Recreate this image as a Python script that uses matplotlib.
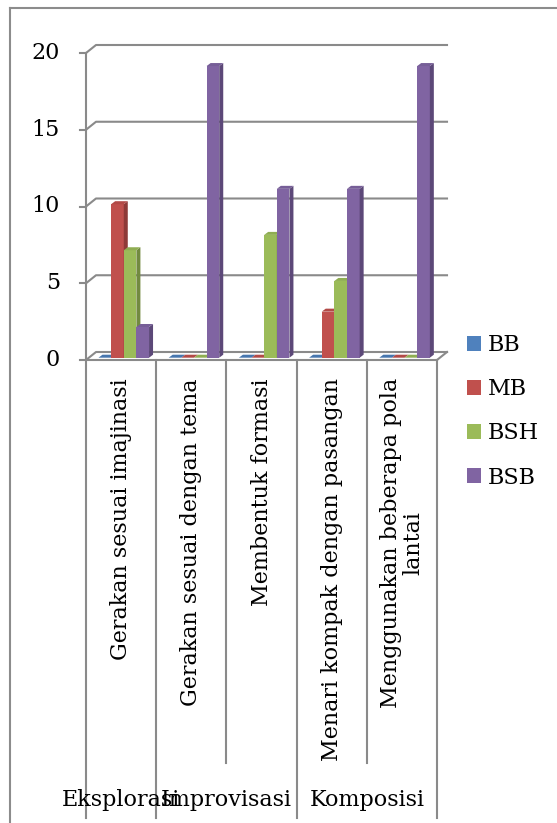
import numpy as np
import matplotlib
matplotlib.use('Agg')
import matplotlib.pyplot as plt
from matplotlib.patches import Polygon, Patch
from matplotlib.lines import Line2D

plt.rcParams['font.family'] = ['DejaVu Serif']

# data
aspek = ['Eksplorasi', 'Improvisasi', 'Komposisi']
aspek_span = [1, 2, 2]
indikator = ['Gerakan sesuai imajinasi', 'Gerakan sesuai dengan tema',
             'Membentuk formasi', 'Menari kompak dengan pasangan',
             'Menggunakan beberapa pola\nlantai']
series = ['BB', 'MB', 'BSH', 'BSB']
bb = [0, 0, 0, 0, 0]
mb = [10, 0, 0, 3, 0]
bsh = [7, 0, 8, 5, 0]
bsb = [2, 19, 11, 11, 19]
yticks = [0, 5, 10, 15, 20]

face = ['#4F81BD', '#C0504D', '#9BBB59', '#8064A2']
side = ['#3A6190', '#8E3A38', '#728A40', '#5C4878']
top = ['#4776AE', '#B24A47', '#8FAD52', '#765E97']

W, H = 557, 823
PXX, PXY = 70.2, 15.35      # pixels per category / per value unit
X0, Y0 = 86, 360             # front origin in pixels
FS = 16

fig = plt.figure(figsize=(W / 100, H / 100), dpi=100)
ax = fig.add_axes([0, 0, 1, 1])
ax.set_xlim(-X0 / PXX, (W - X0) / PXX)
ax.set_ylim(-(H - Y0) / PXY, Y0 / PXY)
ax.axis('off')

gc = '#8a8a8a'
lw = 1.5
n = len(indikator)
wdx, wdy = 10 / PXX, 8 / PXY

# walls / gridlines
for v in yticks:
    ax.plot([0, wdx, n + wdx], [v, v + wdy, v + wdy], color=gc, lw=lw, zorder=1)
    ax.plot([-6 / PXX, 0], [v, v], color=gc, lw=lw, zorder=1)
    ax.text(-26 / PXX, v, str(v), ha='right', va='center', fontsize=FS)
ax.plot([0, n], [0, 0], color=gc, lw=lw, zorder=1)
ax.plot([n, n + wdx], [0, wdy], color=gc, lw=lw, zorder=1)

# dividers below the axis
bottom_full = -(818 - Y0) / PXY
bottom_short = -(763 - Y0) / PXY
ax.plot([0, 0], [yticks[-1], bottom_full], color=gc, lw=lw, zorder=1)
edges = np.cumsum([0] + aspek_span)
for i in range(1, n + 1):
    yb = bottom_full if i in edges else bottom_short
    ax.plot([i, i], [0, yb], color=gc, lw=lw, zorder=1)

# 3d columns
bw = 0.18
off0 = 0.178
b0 = 0.15
sx, sy = 4 / PXX, 3 / PXY
data = [bb, mb, bsh, bsb]
for i in range(n):
    for j, vals in enumerate(data):
        v = vals[i]
        x = i + off0 + j * bw
        z = 3 + i * 0.1 + j * 0.01
        if v > 0:
            ax.bar(x, v, width=bw, bottom=b0, align='edge', color=face[j],
                   linewidth=0, zorder=z)
            ax.add_patch(Polygon([(x + bw, b0), (x + bw + sx, b0 + sy),
                                  (x + bw + sx, b0 + v + sy), (x + bw, b0 + v)],
                                 closed=True, color=side[j], lw=0, zorder=z))
        ax.add_patch(Polygon([(x, b0 + v), (x + bw, b0 + v),
                              (x + bw + sx, b0 + v + sy), (x + sx, b0 + v + sy)],
                             closed=True, color=top[j], lw=0, zorder=z))

# category labels
for i, lab in enumerate(indikator):
    ax.text(i + 0.5, -(378 - Y0) / PXY, lab, rotation=90, ha='center',
            va='top', multialignment='center', fontsize=FS, linespacing=1.0)
for k, lab in enumerate(aspek):
    cx = (edges[k] + edges[k + 1]) / 2
    ax.text(cx, -(800 - Y0) / PXY, lab, ha='center', va='center', fontsize=FS)

# legend
handles = [Patch(facecolor=c, edgecolor='none') for c in face]
fig.legend(handles, series, loc='upper left',
           bbox_to_anchor=(467 / W, 1 - 334 / H), frameon=False,
           fontsize=FS, handlelength=0.65, handleheight=0.65,
           handletextpad=0.3, labelspacing=1.0, borderpad=0, borderaxespad=0)

# outer frame
fig.add_artist(Line2D([10 / W, 10 / W], [0, 1 - 8 / H], color='#8c8c8c', lw=1.5))
fig.add_artist(Line2D([10 / W, 1], [1 - 8 / H, 1 - 8 / H], color='#8c8c8c', lw=1.5))

fig.savefig('out.png', dpi=100)
